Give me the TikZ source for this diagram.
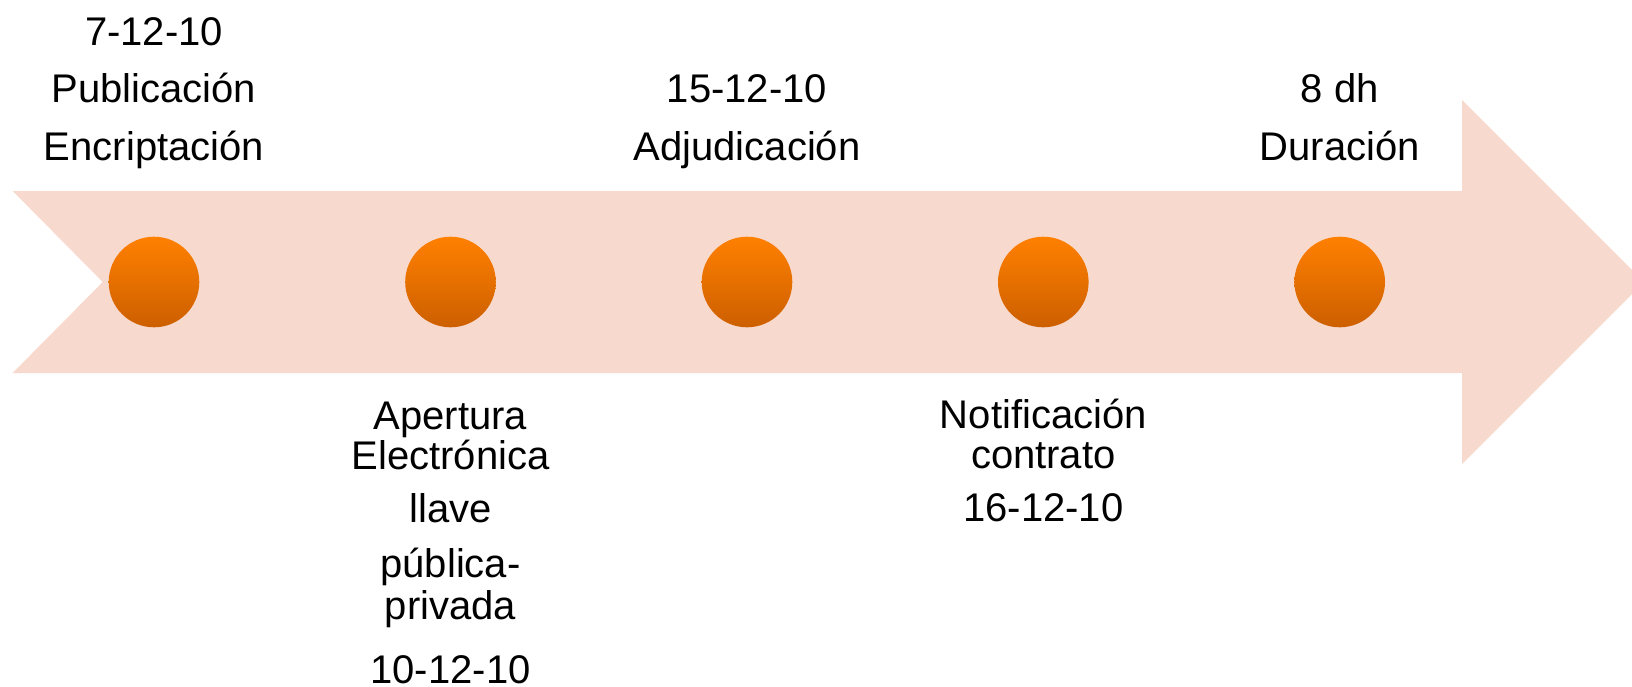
\documentclass[tikz,border=0pt]{standalone}
\usepackage{fontspec}
\setmainfont{Liberation Sans}
\definecolor{arrowfill}{HTML}{F8D9CD}
\definecolor{dottop}{HTML}{FF8000}
\definecolor{dotbot}{HTML}{CC5F00}
\tikzset{
  lbl/.style={anchor=base, inner sep=0pt, text=black, font=\fontsize{40}{40}\selectfont},
  dot/.style={circle, minimum size=90.6pt, inner sep=0pt, top color=dottop, bottom color=dotbot, draw=none}
}
\begin{document}
\begin{tikzpicture}[x=1pt,y=-1pt]
\useasboundingbox (0,0) rectangle (1632,686);
\clip (0,0) rectangle (1632,686);
\fill[arrowfill] (12.7,191) -- (1462,191) -- (1462,100) -- (1644,282) -- (1462,464)
  -- (1462,373) -- (12.7,373) -- (102.7,282) -- cycle;
\node[dot] (c1) at (154,282) {};
\node[dot] (c2) at (450.5,282) {};
\node[dot] (c3) at (747,282) {};
\node[dot] (c4) at (1043.3,282) {};
\node[dot] (c5) at (1339.7,282) {};
% top labels
\node[lbl] (t1a) at (154,45.7) {7-12-10};
\node[lbl] (t1b) at (154,102.7) {Publicación};
\node[lbl] (t1c) at (154,160.7) {Encriptación};
\node[lbl] (t3a) at (747,102.7) {15-12-10};
\node[lbl] (t3b) at (747,160.7) {Adjudicación};
\node[lbl] (t5a) at (1339.7,102.7) {8 dh};
\node[lbl] (t5b) at (1339.7,160.7) {Duración};
% bottom labels
\node[lbl] (t2a) at (450.5,429) {Apertura};
\node[lbl] (t2b) at (450.5,469) {Electrónica};
\node[lbl] (t2c) at (450.5,522) {llave};
\node[lbl] (t2d) at (450.5,577) {pública-};
\node[lbl] (t2e) at (450.5,619) {privada};
\node[lbl] (t2f) at (450.5,683) {10-12-10};
\node[lbl] (t4a) at (1043.3,428.5) {Notificación};
\node[lbl] (t4b) at (1043.3,468) {contrato};
\node[lbl] (t4c) at (1043.3,521) {16-12-10};
\end{tikzpicture}
\end{document}
